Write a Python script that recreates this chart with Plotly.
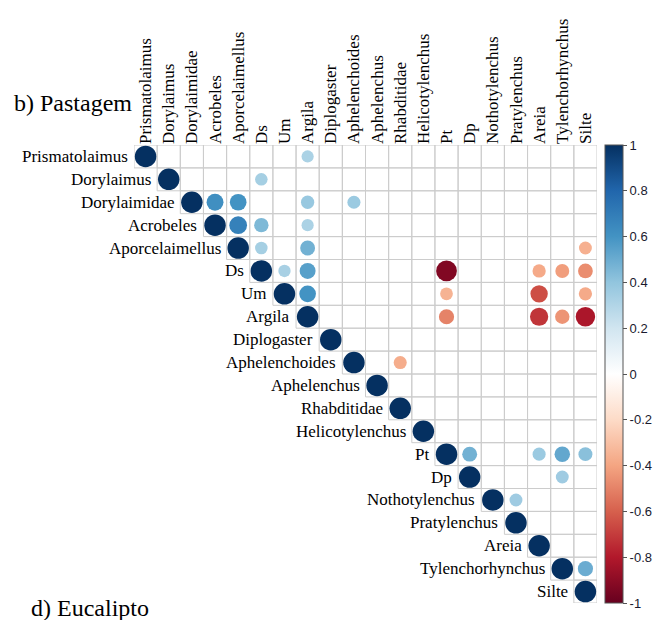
import numpy as np
import plotly.graph_objects as go

# Variables, in matrix order
variables = ["Prismatolaimus", "Dorylaimus", "Dorylaimidae", "Acrobeles",
             "Aporcelaimellus", "Ds", "Um", "Argila", "Diplogaster",
             "Aphelenchoides", "Aphelenchus", "Rhabditidae", "Helicotylenchus",
             "Pt", "Dp", "Nothotylenchus", "Pratylenchus", "Areia",
             "Tylenchorhynchus", "Silte"]

# Significant correlations (upper triangle, off-diagonal)
corr_a = ["Prismatolaimus", "Dorylaimus",
          "Dorylaimidae", "Dorylaimidae", "Dorylaimidae", "Dorylaimidae",
          "Acrobeles", "Acrobeles", "Acrobeles",
          "Aporcelaimellus", "Aporcelaimellus", "Aporcelaimellus",
          "Ds", "Ds", "Ds", "Ds", "Ds", "Ds",
          "Um", "Um", "Um", "Um",
          "Argila", "Argila", "Argila", "Argila",
          "Aphelenchoides",
          "Pt", "Pt", "Pt", "Pt",
          "Dp", "Nothotylenchus", "Tylenchorhynchus"]
corr_b = ["Argila", "Ds",
          "Acrobeles", "Aporcelaimellus", "Argila", "Aphelenchoides",
          "Aporcelaimellus", "Ds", "Argila",
          "Ds", "Argila", "Silte",
          "Um", "Argila", "Pt", "Areia", "Tylenchorhynchus", "Silte",
          "Argila", "Pt", "Areia", "Silte",
          "Pt", "Areia", "Tylenchorhynchus", "Silte",
          "Rhabditidae",
          "Dp", "Areia", "Tylenchorhynchus", "Silte",
          "Tylenchorhynchus", "Pratylenchus", "Silte"]
corr_r = [0.32, 0.34,
          0.62, 0.60, 0.38, 0.37,
          0.68, 0.45, 0.32,
          0.34, 0.48, -0.36,
          0.33, 0.55, -0.93, -0.38, -0.42, -0.47,
          0.60, -0.35, -0.65, -0.38,
          -0.50, -0.72, -0.45, -0.82,
          -0.37,
          0.48, 0.37, 0.52, 0.42,
          0.36, 0.36, 0.50]

bar_ticks = [-1, -0.8, -0.6, -0.4, -0.2, 0, 0.2, 0.4, 0.6, 0.8, 1]

# corrplot-style RdBu palette
rdbu = ["#67001F", "#B2182B", "#D6604D", "#F4A582", "#FDDBC7", "#FFFFFF",
        "#D1E5F0", "#92C5DE", "#4393C3", "#2166AC", "#053061"]
colorscale = [[k / (len(rdbu) - 1), c] for k, c in enumerate(rdbu)]

SERIF = "Liberation Serif, Times New Roman, Times, serif"

n = len(variables)
idx = {v: k for k, v in enumerate(variables)}

# points: diagonal plus listed correlations
px = list(range(n)) + [idx[b] for b in corr_b]
py = list(range(n)) + [idx[a] for a in corr_a]
pr = [1.0] * n + corr_r

full_diam = 21.5
sizes = [full_diam * np.sqrt(abs(r)) for r in pr]

fig = go.Figure()

# cell borders of the upper triangle
shapes = []
for i in range(n):
    for j in range(i, n):
        shapes.append(dict(type="rect", xref="x", yref="y",
                           x0=j - 0.5, x1=j + 0.5, y0=i - 0.5, y1=i + 0.5,
                           line=dict(color="#CCCCCC", width=1),
                           fillcolor="rgba(0,0,0,0)", layer="below"))

fig.add_trace(go.Scatter(
    x=px, y=py, mode="markers",
    marker=dict(size=sizes, sizemode="diameter", color=pr, opacity=1,
                cmin=-1, cmax=1, colorscale=colorscale,
                line=dict(width=0),
                showscale=True,
                colorbar=dict(
                    x=1.017, xanchor="left", xpad=0,
                    y=0.5, yanchor="middle", len=1, lenmode="fraction", ypad=0,
                    thickness=18, outlinecolor="#555555", outlinewidth=1,
                    tickvals=bar_ticks,
                    ticktext=[f"{t:g}" for t in bar_ticks],
                    ticks="outside", ticklen=4, tickcolor="#555555",
                    tickfont=dict(family="Liberation Sans, Arial, sans-serif",
                                  size=13, color="#1a1a2e"),
                )),
    hoverinfo="skip", showlegend=False,
))

# row labels, right-aligned to the left of each diagonal cell
annotations = []
for k, v in enumerate(variables):
    annotations.append(dict(x=k - 0.5, y=k, xref="x", yref="y", text=v,
                            showarrow=False, xanchor="right", yanchor="middle",
                            xshift=-4,
                            font=dict(family=SERIF, size=17, color="black")))

annotations.append(dict(x=-0.264, y=1.092, xref="paper", yref="paper",
                        text="b) Pastagem", showarrow=False,
                        xanchor="left", yanchor="middle",
                        font=dict(family=SERIF, size=24, color="black")))
annotations.append(dict(x=-0.227, y=-0.012, xref="paper", yref="paper",
                        text="d) Eucalipto", showarrow=False,
                        xanchor="left", yanchor="middle",
                        font=dict(family=SERIF, size=24, color="black")))

fig.update_layout(
    width=665, height=620, autosize=False,
    margin=dict(l=134, r=68, t=145, b=17),
    paper_bgcolor="white", plot_bgcolor="white",
    font=dict(family=SERIF),
    shapes=shapes, annotations=annotations,
    xaxis=dict(range=[-0.5, n - 0.5], side="top", tickmode="array",
               tickvals=list(range(n)), ticktext=variables, tickangle=-90,
               showgrid=False, zeroline=False, showline=False, ticks="",
               tickfont=dict(family=SERIF, size=17, color="black"),
               fixedrange=True),
    yaxis=dict(range=[n - 0.5, -0.5], showgrid=False, zeroline=False,
               showline=False, showticklabels=False, ticks="", fixedrange=True),
)

fig.write_html("out.html")
